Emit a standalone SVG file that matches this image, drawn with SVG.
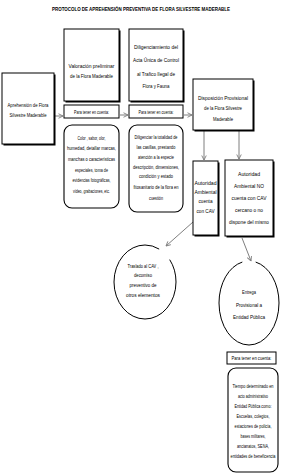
<svg xmlns="http://www.w3.org/2000/svg" width="282" height="476" viewBox="0 0 282 476">
<defs>
<marker id="arr" viewBox="0 0 8 8" refX="7" refY="4" markerWidth="6" markerHeight="6" orient="auto" markerUnits="userSpaceOnUse">
<path d="M1,1 L7,4 L1,7" fill="none" stroke="#7f7f7f" stroke-width="1.2"/>
</marker>
</defs>
<style>
.box{fill:#fff;stroke:#000;stroke-width:1}
.sh{fill:#000}
.rbox{fill:#fff;stroke:#000;stroke-width:1.1}
.t{font-family:"Liberation Sans",Arial,sans-serif;font-size:6px;text-anchor:middle;fill:#000}
.s{font-size:5.2px}
.xs{font-size:4.5px}
.title{font-family:"Liberation Sans",Arial,sans-serif;font-size:5.6px;font-weight:bold;text-anchor:middle}
.con{stroke:#7f7f7f;stroke-width:1;fill:none;marker-end:url(#arr)}
.circ{fill:#fff;stroke:#000;stroke-width:1}
</style>
<rect width="282" height="476" fill="#fff"/>
<g id="title">
<text class="title" x="141" y="10.5" textLength="178" lengthAdjust="spacingAndGlyphs">PROTOCOLO DE APREHENSIÓN PREVENTIVA DE FLORA SILVESTRE MADERABLE</text>
</g>

<g id="connectors">
<line class="con" x1="55" y1="116" x2="63" y2="116"/>
<line class="con" x1="120" y1="115" x2="128" y2="115"/>
<line class="con" x1="184" y1="115" x2="192" y2="115"/>
<line class="con" x1="204" y1="131" x2="204" y2="160"/>
<line class="con" x1="239" y1="131" x2="239" y2="159"/>
<line class="con" x1="193" y1="222" x2="166" y2="246"/>
<line class="con" x1="242" y1="238" x2="251" y2="261"/>
</g>

<g id="aprehension">
<rect class="sh" x="3.5" y="74.5" width="52" height="71"/>
<rect class="box" x="2" y="73" width="52" height="71"/>
<text class="t" x="28" y="107" textLength="41" lengthAdjust="spacingAndGlyphs">Aprehensión de  Flora</text>
<text class="t" x="28" y="117" textLength="37" lengthAdjust="spacingAndGlyphs">Silvestre Maderable</text>
</g>

<g id="valoracion">
<rect class="sh" x="65.5" y="30.5" width="55" height="72"/>
<rect class="box" x="64" y="29" width="55" height="72"/>
<text class="t" x="91.5" y="68" textLength="46" lengthAdjust="spacingAndGlyphs">Valoración preliminar</text>
<text class="t" x="91.5" y="78" textLength="43" lengthAdjust="spacingAndGlyphs">de la Flora Maderable</text>
</g>

<g id="para1">
<rect class="box" x="64" y="105" width="55" height="13"/>
<text class="t s" x="91.5" y="113.5" textLength="35" lengthAdjust="spacingAndGlyphs">Para tener en cuenta:</text>
</g>

<g id="nota1">
<rect class="rbox" x="64" y="125" width="55" height="83" rx="8"/>
<text class="t s" x="91.5" y="140" textLength="28" lengthAdjust="spacingAndGlyphs">Color , sabor, olor,</text>
<text class="t s" x="91.5" y="150" textLength="49" lengthAdjust="spacingAndGlyphs">humedad, detallar marcas,</text>
<text class="t s" x="91.5" y="161" textLength="47" lengthAdjust="spacingAndGlyphs">manchas o características</text>
<text class="t s" x="91.5" y="172" textLength="33" lengthAdjust="spacingAndGlyphs">especiales, toma de</text>
<text class="t s" x="91.5" y="182" textLength="38" lengthAdjust="spacingAndGlyphs">evidencias fotográficas,</text>
<text class="t s" x="91.5" y="193" textLength="37" lengthAdjust="spacingAndGlyphs">vídeo, grabaciones, etc.</text>
</g>

<g id="diligenciamiento">
<rect class="sh" x="130.5" y="30.5" width="54" height="72"/>
<rect class="box" x="129" y="29" width="54" height="72"/>
<text class="t" x="156" y="49" textLength="44" lengthAdjust="spacingAndGlyphs">Diligenciamiento del</text>
<text class="t" x="156" y="62" textLength="46" lengthAdjust="spacingAndGlyphs">Acta Única de Control</text>
<text class="t" x="156" y="76" textLength="38" lengthAdjust="spacingAndGlyphs">al Trafico Ilegal de</text>
<text class="t" x="156" y="88" textLength="27" lengthAdjust="spacingAndGlyphs">Flora y Fauna</text>
</g>

<g id="para2">
<rect class="box" x="129" y="105" width="54" height="13"/>
<text class="t s" x="156" y="113.5" textLength="35" lengthAdjust="spacingAndGlyphs">Para tener en cuenta:</text>
</g>

<g id="nota2">
<rect class="rbox" x="129" y="125" width="54" height="87" rx="8"/>
<text class="t s" x="156" y="139" textLength="43" lengthAdjust="spacingAndGlyphs">Diligenciar la totalidad de</text>
<text class="t s" x="156" y="149" textLength="39" lengthAdjust="spacingAndGlyphs">las casillas, prestando</text>
<text class="t s" x="156" y="159" textLength="36" lengthAdjust="spacingAndGlyphs">atención a la especie</text>
<text class="t s" x="156" y="169" textLength="46" lengthAdjust="spacingAndGlyphs">descripción, dimensiones,</text>
<text class="t s" x="156" y="178" textLength="34" lengthAdjust="spacingAndGlyphs">condición  y estado</text>
<text class="t s" x="156" y="189" textLength="45" lengthAdjust="spacingAndGlyphs">fitosanitario de la flora en</text>
<text class="t s" x="156" y="200" textLength="14" lengthAdjust="spacingAndGlyphs">cuestión</text>
</g>

<g id="disposicion">
<rect class="sh" x="194.5" y="80.5" width="60" height="51"/>
<rect class="box" x="193" y="79" width="60" height="51"/>
<text class="t" x="223" y="100" textLength="50" lengthAdjust="spacingAndGlyphs">Disposición  Provisional</text>
<text class="t" x="223" y="110" textLength="38" lengthAdjust="spacingAndGlyphs">de la Flora Silvestre</text>
<text class="t" x="223" y="121" textLength="20" lengthAdjust="spacingAndGlyphs">Maderable</text>
</g>

<g id="autoridad_cav">
<rect class="sh" x="194.5" y="162.5" width="25" height="74"/>
<rect class="box" x="193" y="161" width="25" height="74"/>
<text class="t" x="205.5" y="185" textLength="22" lengthAdjust="spacingAndGlyphs">Autoridad</text>
<text class="t" x="205.5" y="194" textLength="22" lengthAdjust="spacingAndGlyphs">Ambiental</text>
<text class="t" x="205.5" y="203" textLength="14" lengthAdjust="spacingAndGlyphs">cuenta</text>
<text class="t" x="205.5" y="213" textLength="18" lengthAdjust="spacingAndGlyphs">con CAV</text>
</g>

<g id="autoridad_no_cav">
<rect class="sh" x="226.5" y="161.5" width="48" height="76"/>
<rect class="box" x="225" y="160" width="48" height="76"/>
<text class="t" x="249" y="176" textLength="22" lengthAdjust="spacingAndGlyphs">Autoridad</text>
<text class="t" x="249" y="188" textLength="30" lengthAdjust="spacingAndGlyphs">Ambiental NO</text>
<text class="t" x="249" y="200" textLength="35" lengthAdjust="spacingAndGlyphs">cuenta con CAV</text>
<text class="t" x="249" y="212" textLength="28" lengthAdjust="spacingAndGlyphs">cercano o no</text>
<text class="t" x="249" y="224" textLength="40" lengthAdjust="spacingAndGlyphs">dispone del mismo</text>
</g>

<g id="traslado">
<ellipse class="circ" cx="145" cy="282" rx="31" ry="37" pathLength="100" stroke-dasharray="82 7 11"/>
<text class="t" x="143" y="268" textLength="31" lengthAdjust="spacingAndGlyphs">Traslado al CAV ,</text>
<text class="t" x="143" y="277" textLength="18" lengthAdjust="spacingAndGlyphs">decomiso</text>
<text class="t" x="143" y="287" textLength="27" lengthAdjust="spacingAndGlyphs">preventivo de</text>
<text class="t" x="143" y="297" textLength="34" lengthAdjust="spacingAndGlyphs">otros elementos</text>
</g>

<g id="entrega">
<ellipse class="circ" cx="249" cy="303" rx="30" ry="42" pathLength="100" stroke-dasharray="72 6 22"/>
<text class="t" x="249" y="294" textLength="14" lengthAdjust="spacingAndGlyphs">Entrega</text>
<text class="t" x="249" y="307" textLength="26" lengthAdjust="spacingAndGlyphs">Provisional a</text>
<text class="t" x="249" y="319" textLength="32" lengthAdjust="spacingAndGlyphs">Entidad Pública</text>
</g>

<g id="para3">
<rect class="box" x="227" y="352" width="49" height="12"/>
<text class="t xs" x="251.5" y="360" textLength="40" lengthAdjust="spacingAndGlyphs">Para tener en cuenta:</text>
</g>

<g id="nota3">
<rect class="rbox" x="228" y="368" width="50" height="104" rx="8"/>
<text class="t xs" x="253" y="388" textLength="41" lengthAdjust="spacingAndGlyphs">Tiempo determinado en</text>
<text class="t xs" x="253" y="398" textLength="30" lengthAdjust="spacingAndGlyphs">acto administrativo</text>
<text class="t xs" x="253" y="408" textLength="37" lengthAdjust="spacingAndGlyphs">Entidad Pública como:</text>
<text class="t xs" x="253" y="418" textLength="33" lengthAdjust="spacingAndGlyphs">Escuelas, colegios,</text>
<text class="t xs" x="253" y="428" textLength="37" lengthAdjust="spacingAndGlyphs">estaciones de policía,</text>
<text class="t xs" x="253" y="438" textLength="25" lengthAdjust="spacingAndGlyphs">bases militares,</text>
<text class="t xs" x="253" y="448" textLength="32" lengthAdjust="spacingAndGlyphs">ancianatos, SENA,</text>
<text class="t xs" x="253" y="458" textLength="45" lengthAdjust="spacingAndGlyphs">entidades de beneficencia</text>
</g>
</svg>
